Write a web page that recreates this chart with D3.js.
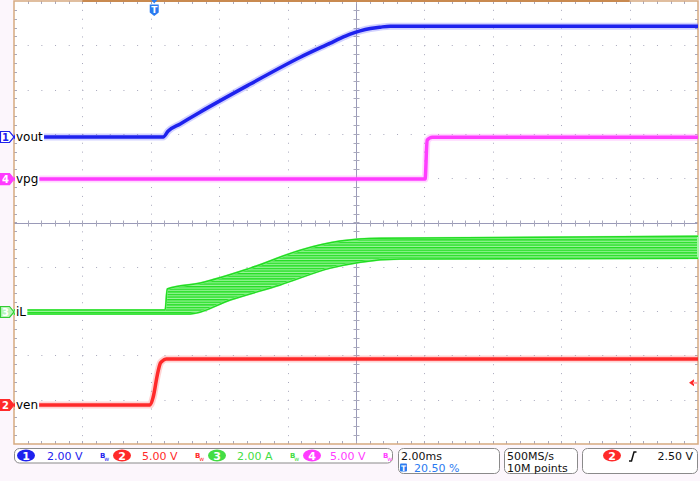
<!DOCTYPE html>
<html>
<head>
<meta charset="utf-8">
<script src="https://cdn.jsdelivr.net/npm/d3@7"></script>
<style>
    html, body { margin: 0; padding: 0; background: #fcf6fc; }
    svg { display: block; font-family: "DejaVu Sans", sans-serif; }
</style>
</head>
<body>
<div id="chart"></div>
<script>
/*
 *  Scope capture data (time in ms, relative to trigger)
 */
const timeRange = [-4.1, 15.9];

// ch1 vout (V)
const voutT = [-4.1, 0.26, 0.41, 0.76, 1.35, 2.81, 4.27, 5.15, 5.44, 5.73, 6.02, 6.32, 6.61, 6.90, 15.9];
const voutV = [0, 0, 0.27, 0.59, 1.13, 2.39, 3.60, 4.24, 4.45, 4.64, 4.79, 4.90, 4.96, 5.0, 5.0];

// ch4 vpg (V)
const vpgT = [-4.1, 7.92, 7.98, 8.13, 15.9];
const vpgV = [0, 0, 4.39, 4.73, 4.73];

// ch3 iL (A) - ripple envelope, upper and lower edge
const ilHiT = [-4.1, 0.32, 0.38, 1.35, 2.81, 4.27, 5.44, 6.61, 15.9];
const ilHiA = [0.09, 0.09, 1.04, 1.31, 1.98, 2.79, 3.20, 3.33, 3.42];
const ilLoT = [-4.1, 1.05, 2.22, 3.68, 5.15, 6.02, 7.19, 15.9];
const ilLoA = [-0.09, -0.09, 0.54, 1.22, 1.98, 2.25, 2.39, 2.43];

// ch2 ven (V)
const venT = [-4.1, -0.12, -0.03, 0.09, 0.18, 0.23, 0.35, 15.9];
const venV = [0, 0, 0.9, 3.38, 4.73, 4.95, 5.18, 5.18];

// status bar texts
const chNames = ['1', '2', '3', '4'];
const chScaleText = ['2.00 V', '5.00 V', '2.00 A', '5.00 V'];
const timebase = '2.00ms';
const trigPos = '20.50 %';
const sampleRate = '500MS/s';
const recordLen = '10M points';
const trigLevel = 2.50;

/*
 *  Draw the screen
 */
const width = 700;
const height = 481;
const plot = { left: 14, right: 698, top: 1, bottom: 444 };

const svg = d3.select('#chart').append('svg')
    .attr('width', width)
    .attr('height', height);

const x = d3.scaleLinear().domain(timeRange).range([plot.left, plot.right]);
const xDiv = d3.scaleLinear().domain([0, 10]).range([plot.left, plot.right]);
const yDiv = d3.scaleLinear().domain([-5, 5]).range([plot.bottom, plot.top]);

// one vertical scale per channel: volts per div and ground offset in divs
function chScale(perDiv, offset) {
    return d3.scaleLinear()
        .domain([(-5 - offset) * perDiv, (5 - offset) * perDiv])
        .range([plot.bottom, plot.top]);
}
const y1 = chScale(2, 1.93);
const y4 = chScale(5, 0.98);
const y3 = chScale(2, -2.02);
const y2 = chScale(5, -4.12);

// plot background
svg.append('rect')
    .attr('x', plot.left).attr('y', plot.top)
    .attr('width', plot.right - plot.left).attr('height', plot.bottom - plot.top)
    .attr('fill', '#ffffff');

// dotted grid
const grid = svg.append('g').attr('stroke', '#a8a8bc').attr('stroke-width', 1);
const minorX = (xDiv(1) - xDiv(0)) / 5;
const minorY = (yDiv(0) - yDiv(1)) / 5;
d3.range(1, 10).filter(i => i !== 5).forEach(i => {
    grid.append('line')
        .attr('x1', Math.round(xDiv(i)) + 0.5).attr('x2', Math.round(xDiv(i)) + 0.5)
        .attr('y1', plot.top).attr('y2', plot.bottom)
        .attr('stroke-dasharray', `1,${minorY - 1}`);
    grid.append('line')
        .attr('y1', Math.round(yDiv(i - 5)) + 0.5).attr('y2', Math.round(yDiv(i - 5)) + 0.5)
        .attr('x1', plot.left).attr('x2', plot.right)
        .attr('stroke-dasharray', `1,${minorX - 1}`)
        .attr('stroke-dashoffset', -minorX);
});

// centre cross with minor ticks
const cx = Math.round(xDiv(5)) + 0.5;
const cy = Math.round(yDiv(0)) + 0.5;
grid.append('line').attr('x1', cx).attr('x2', cx).attr('y1', plot.top).attr('y2', plot.bottom).attr('stroke', '#9a9ab8');
grid.append('line').attr('y1', cy).attr('y2', cy).attr('x1', plot.left).attr('x2', plot.right).attr('stroke', '#9a9ab8');
d3.range(1, 50).forEach(k => {
    const yy = Math.round(plot.top + k * minorY) + 0.5;
    grid.append('line').attr('x1', cx - 3).attr('x2', cx + 3).attr('y1', yy).attr('y2', yy);
    grid.append('line').attr('x1', plot.left).attr('x2', plot.left + 3).attr('y1', yy).attr('y2', yy);
    grid.append('line').attr('x1', plot.right - 3).attr('x2', plot.right).attr('y1', yy).attr('y2', yy);
    const xx = Math.round(plot.left + k * minorX) + 0.5;
    grid.append('line').attr('x1', xx).attr('x2', xx).attr('y1', cy - 3).attr('y2', cy + 3);
    grid.append('line').attr('x1', xx).attr('x2', xx).attr('y1', plot.top).attr('y2', plot.top + 3);
    grid.append('line').attr('x1', xx).attr('x2', xx).attr('y1', plot.bottom - 3).attr('y2', plot.bottom);
});

// frame
svg.append('rect')
    .attr('x', plot.left).attr('y', plot.top)
    .attr('width', plot.right - plot.left).attr('height', plot.bottom - plot.top)
    .attr('fill', 'none').attr('stroke', '#d6aa80').attr('stroke-width', 1.5);
svg.append('rect')
    .attr('x', xDiv(1)).attr('y', 0)
    .attr('width', xDiv(9) - xDiv(1)).attr('height', 2)
    .attr('fill', '#c98a50');

/*
 *  Traces
 */
const zip = (ts, vs) => ts.map((t, i) => ({ t: t, v: vs[i] }));

function drawTrace(ts, vs, yScale, color, halo) {
    const line = d3.line().x(d => x(d.t)).y(d => yScale(d.v)).curve(d3.curveMonotoneX);
    const pts = zip(ts, vs);
    svg.append('path').attr('d', line(pts))
        .attr('fill', 'none').attr('stroke', halo).attr('stroke-width', 7)
        .attr('stroke-linejoin', 'round');
    svg.append('path').attr('d', line(pts))
        .attr('fill', 'none').attr('stroke', color).attr('stroke-width', 3.5)
        .attr('stroke-linejoin', 'round');
}

// iL band with striped persistence look
const defs = svg.append('defs');
const pat = defs.append('pattern')
    .attr('id', 'stripes').attr('patternUnits', 'userSpaceOnUse')
    .attr('width', 6).attr('height', 2.6);
pat.append('rect').attr('width', 6).attr('height', 2.6).attr('fill', '#9cf59c');
pat.append('rect').attr('width', 6).attr('height', 1.4).attr('fill', '#22dd22');

const ilLine = d3.line().x(d => x(d.t)).y(d => y3(d.v)).curve(d3.curveMonotoneX);
const ilHi = zip(ilHiT, ilHiA);
const ilLo = zip(ilLoT, ilLoA);
svg.append('path')
    .attr('d', ilLine(ilHi) + 'L' + ilLine(ilLo.slice().reverse()).slice(1) + 'Z')
    .attr('fill', 'url(#stripes)')
    .attr('stroke', '#aaf5aa').attr('stroke-width', 2);
[ilHi, ilLo].forEach(pts => {
    svg.append('path').attr('d', ilLine(pts))
        .attr('fill', 'none').attr('stroke', '#22dd22').attr('stroke-width', 1.5);
});

drawTrace(vpgT, vpgV, y4, '#ff3cff', 'rgba(255,120,255,0.3)');
drawTrace(voutT, voutV, y1, '#1e22ee', 'rgba(90,90,255,0.28)');
drawTrace(venT, venV, y2, '#ff2a2a', 'rgba(255,110,110,0.3)');

/*
 *  Channel ground markers and labels
 */
const markers = [
    { ch: '1', label: 'vout', y: y1(0), color: '#1e22ee', fill: '#ffffff', text: '#1e22ee' },
    { ch: '4', label: 'vpg', y: y4(0), color: '#ff3cff', fill: '#ff3cff', text: '#ffffff' },
    { ch: '3', label: 'iL', y: y3(0), color: '#33cc33', fill: '#b8f5b8', text: '#ffffff' },
    { ch: '2', label: 'ven', y: y2(0), color: '#ff2a2a', fill: '#ff2a2a', text: '#ffffff' }
];
markers.forEach(m => {
    const lbl = svg.append('text').attr('x', 16).attr('y', m.y + 4)
        .attr('font-size', 12).attr('fill', '#000').text(m.label);
    const bb = lbl.node().getBBox();
    svg.insert('rect', () => lbl.node())
        .attr('x', plot.left + 1).attr('y', m.y - 6)
        .attr('width', bb.x + bb.width - plot.left).attr('height', 12)
        .attr('fill', '#ffffff');
    svg.append('path')
        .attr('d', `M0.5,${m.y - 5.5} h9 l4.5,5.5 l-4.5,5.5 h-9 z`)
        .attr('fill', m.fill).attr('stroke', m.color).attr('stroke-width', 1.2);
    svg.append('text').attr('x', 5.5).attr('y', m.y + 3.8)
        .attr('text-anchor', 'middle').attr('font-size', 10).attr('font-weight', 'bold')
        .attr('fill', m.text).text(m.ch);
});

// trigger position marker
const tx = x(0);
svg.append('path').attr('d', `M${tx - 3},0 h6 l-3,3.5 z`).attr('fill', '#2b7bf0');
svg.append('path').attr('d', `M${tx - 4.5},4.5 h9 v8 l-4.5,3.5 l-4.5,-3.5 z`).attr('fill', '#2b7bf0');
svg.append('text').attr('x', tx).attr('y', 13).attr('text-anchor', 'middle')
    .attr('font-size', 9).attr('font-weight', 'bold').attr('fill', '#fff').text('T');

// trigger level marker
const ty = y2(trigLevel);
svg.append('path').attr('d', `M${plot.right - 9},${ty} l5,-3.5 v7 z`).attr('fill', '#ff2a2a');
svg.append('line').attr('x1', plot.right - 5).attr('x2', plot.right).attr('y1', ty).attr('y2', ty)
    .attr('stroke', '#ffaaaa').attr('stroke-width', 2);

/*
 *  Status bar
 */
const bar = svg.append('g').attr('font-size', 11);
const boxes = [
    { x: 14, y: 448, w: 378, h: 14.5 },
    { x: 398, y: 448, w: 101, h: 25 },
    { x: 504, y: 448, w: 73, h: 25 },
    { x: 582, y: 448, w: 115, h: 25 }
];
boxes.forEach(b => {
    bar.append('rect').attr('x', b.x + 0.5).attr('y', b.y + 0.5)
        .attr('width', b.w).attr('height', b.h).attr('rx', 5)
        .attr('fill', '#ffffff').attr('stroke', '#8a8a8a').attr('stroke-width', 1);
});

const chColors = ['#1e22ee', '#ff2a2a', '#44dd44', '#ff3cff'];
const badgeX = [26, 122, 217, 312];
const valueX = [47, 142, 237, 330];
const bwX = [100, 195, 290, 383];
chNames.forEach((c, i) => {
    bar.append('ellipse').attr('cx', badgeX[i]).attr('cy', 455.5).attr('rx', 9).attr('ry', 6)
        .attr('fill', chColors[i]);
    bar.append('text').attr('x', badgeX[i]).attr('y', 459.5).attr('text-anchor', 'middle')
        .attr('font-weight', 'bold').attr('fill', '#fff').text(c);
    bar.append('text').attr('x', valueX[i]).attr('y', 460)
        .attr('fill', chColors[i]).text(chScaleText[i]);
    // bandwidth limit glyph
    const bw = bar.append('text').attr('x', bwX[i]).attr('y', 458)
        .attr('font-size', 7).attr('font-weight', 'bold').attr('fill', chColors[i]);
    bw.append('tspan').text('B');
    bw.append('tspan').attr('dy', 3).attr('dx', -1).attr('font-size', 6).attr('font-weight', 'normal').text('w');
});

// timebase box
bar.append('text').attr('x', 401).attr('y', 460).attr('fill', '#111').text(timebase);
bar.append('rect').attr('x', 400).attr('y', 463.5).attr('width', 7).attr('height', 8).attr('rx', 1).attr('fill', '#2b7bf0');
bar.append('text').attr('x', 403.5).attr('y', 470.5).attr('text-anchor', 'middle')
    .attr('font-size', 7.5).attr('font-weight', 'bold').attr('fill', '#fff').text('T');
bar.append('text').attr('x', 414).attr('y', 471.5).attr('fill', '#2b7bf0').text(trigPos);

// acquisition box
bar.append('text').attr('x', 507).attr('y', 460).attr('fill', '#111').text(sampleRate);
bar.append('text').attr('x', 507).attr('y', 471.5).attr('fill', '#111').text(recordLen);

// trigger box
bar.append('ellipse').attr('cx', 612).attr('cy', 455.5).attr('rx', 9).attr('ry', 6).attr('fill', '#ff2a2a');
bar.append('text').attr('x', 612).attr('y', 459.5).attr('text-anchor', 'middle')
    .attr('font-weight', 'bold').attr('fill', '#fff').text('2');
bar.append('path').attr('d', 'M629,461 h2.5 l2.5,-9 h2.5')
    .attr('fill', 'none').attr('stroke', '#111').attr('stroke-width', 1.5);
bar.append('text').attr('x', 693).attr('y', 460).attr('text-anchor', 'end')
    .attr('fill', '#111').text(trigLevel.toFixed(2) + ' V');
</script>
</body>
</html>
